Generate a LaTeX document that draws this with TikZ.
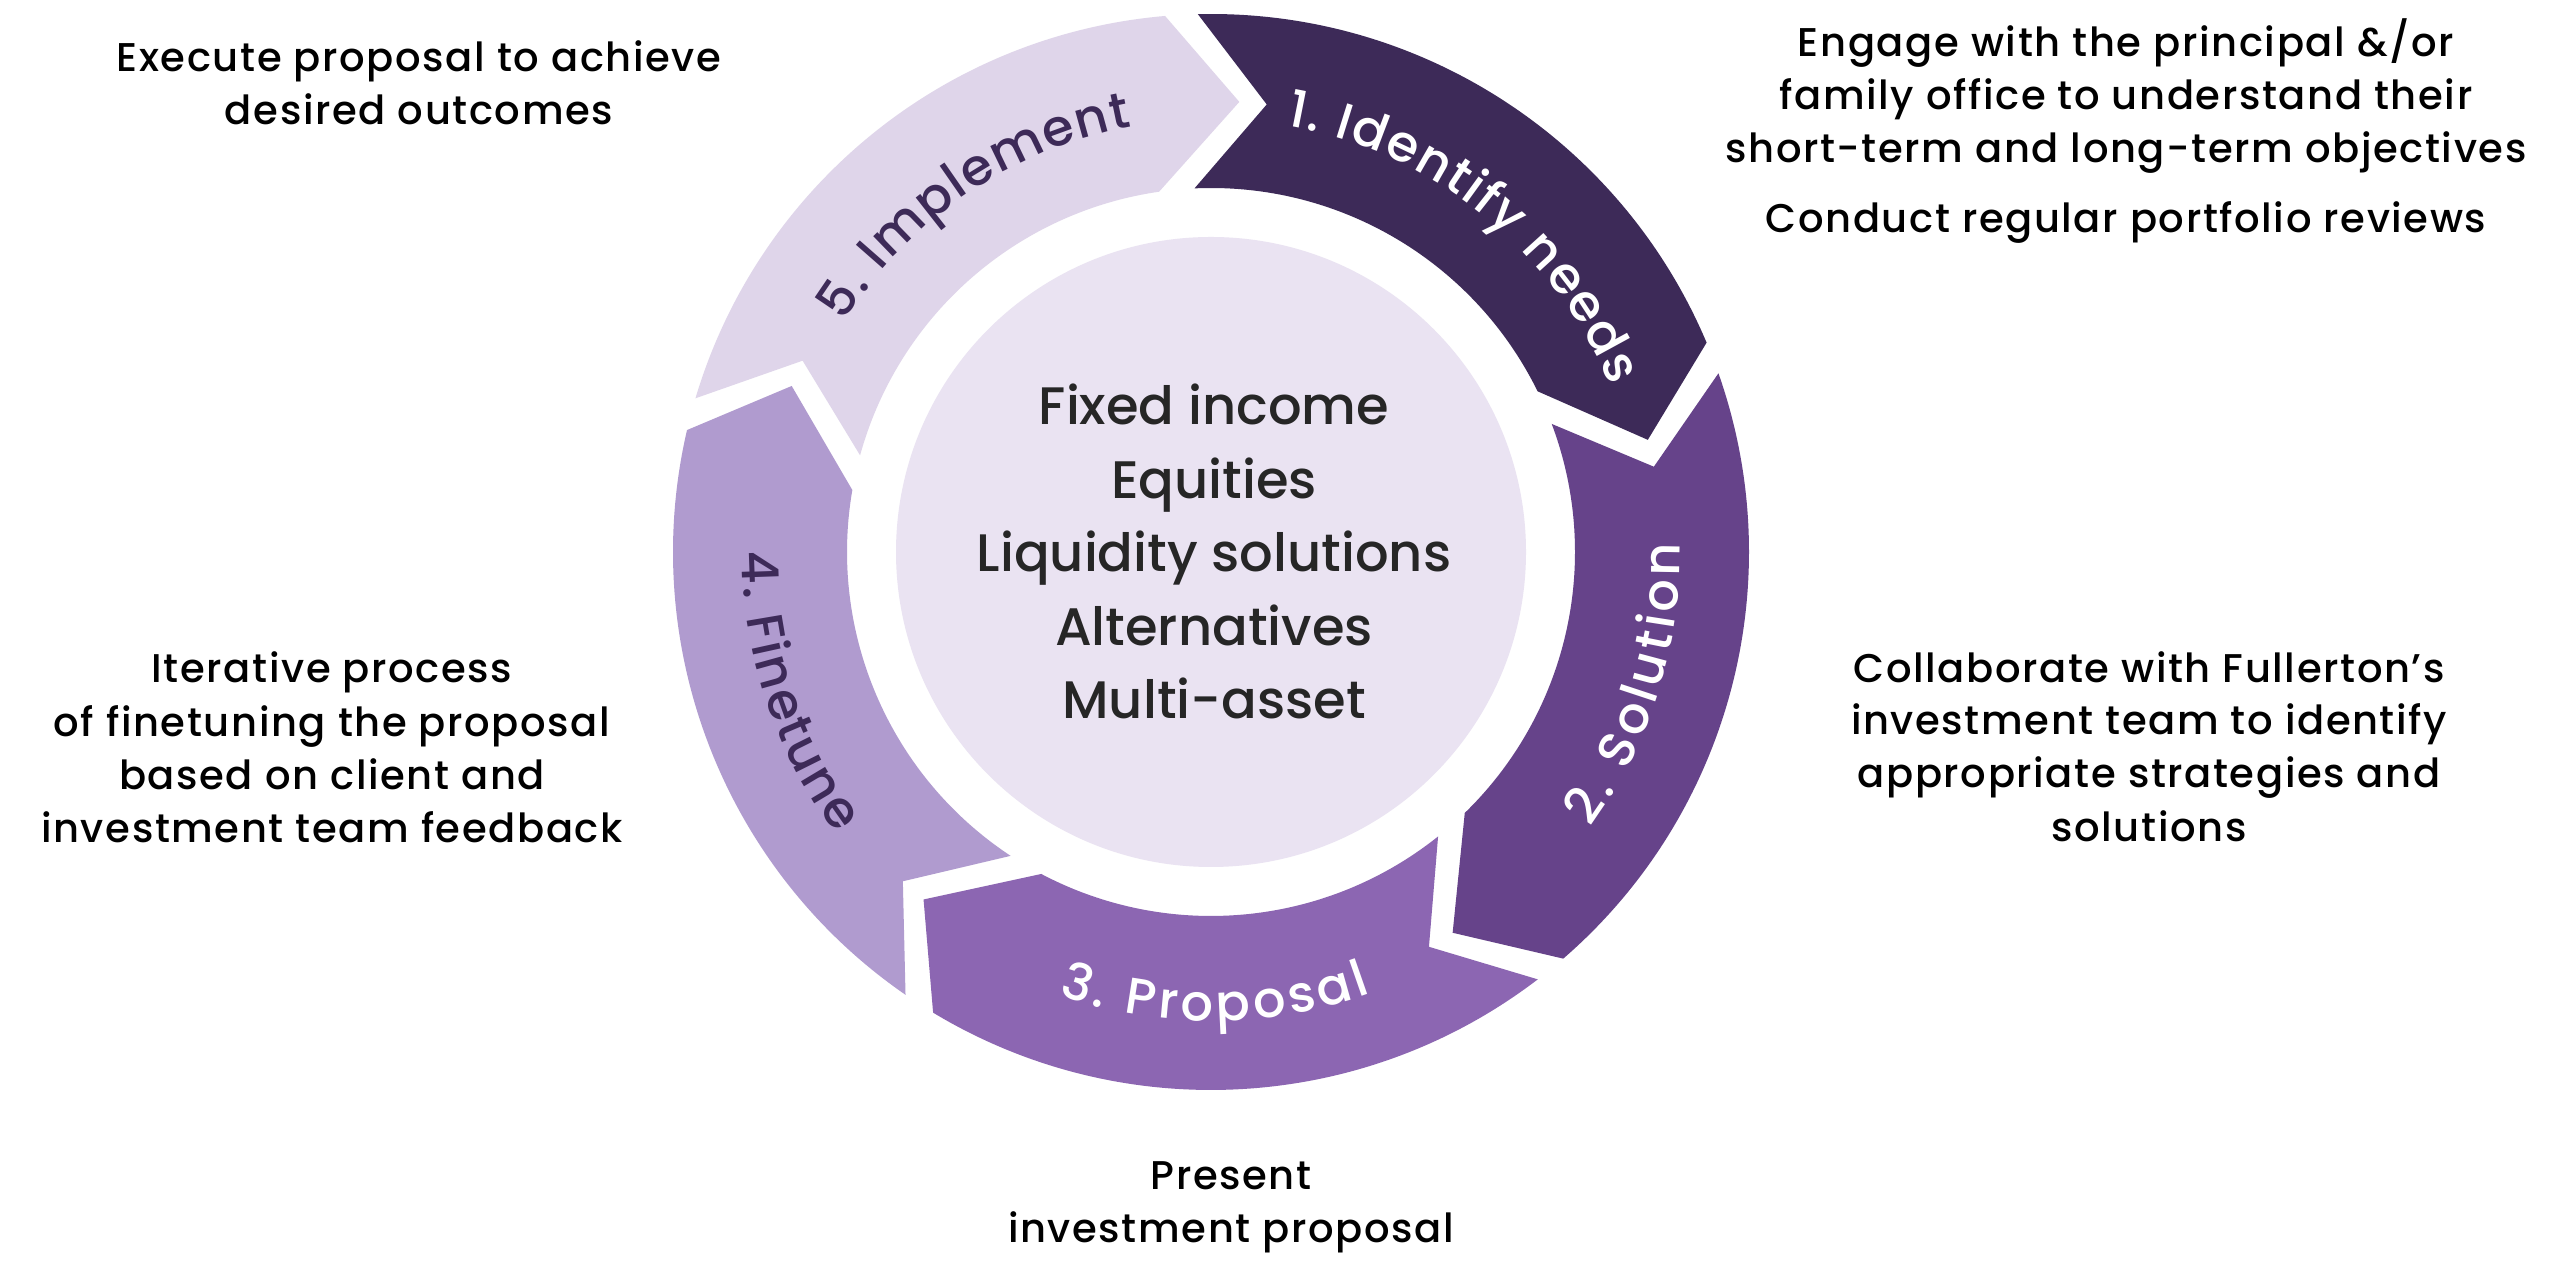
\documentclass[tikz,border=0pt]{standalone}
\usepackage{fontspec}
\setmainfont{Poppins}
\newfontfamily\assetfont{Poppins Medium}
\newfontfamily\sidefont[LetterSpace=4]{Poppins Medium}
\newfontfamily\labelfont{Poppins Medium}
\usetikzlibrary{decorations.text}
\definecolor{identify}{HTML}{3D2A58}
\definecolor{solution}{HTML}{66438A}
\definecolor{proposal}{HTML}{8C66B2}
\definecolor{finetune}{HTML}{B09BCF}
\definecolor{implement}{HTML}{DFD5EA}
\definecolor{core}{HTML}{EAE3F2}
\definecolor{assetgray}{HTML}{262626}
\def\router{538}
\def\rinner{364}
\def\rmiddle{451}
% one arrow piece of the ring, #2 = angle of its tip
\def\ringseg[#1](#2){\fill[#1] ({#2+77}:\router) arc[start angle={#2+77}, end angle={#2+8.5}, radius=\router] -- (#2:\rmiddle) -- ({#2+11.8}:\rinner) arc[start angle={#2+11.8}, end angle={#2+78.2}, radius=\rinner] -- ({#2+68.5}:\rmiddle) -- cycle;}
\tikzset{
  sidetext/.style={font=\sidefont\fontsize{11.4}{15}\selectfont, text=black, inner sep=0pt, anchor=base},
  assettext/.style={font=\assetfont\fontsize{15}{21}\selectfont, text=assetgray, inner sep=0pt, anchor=base}
}

\begin{document}
\begin{tikzpicture}[x=0.01cm, y=0.01cm]
	%%%%% START %%%%%
	\useasboundingbox (0,0) rectangle (2560,1282);
	\fill[white] (0,0) rectangle (2560,1282);
	
	\begin{scope}[shift={(1211,730)}]
		\ringseg[identify](14.4)
		\ringseg[solution](-57.6)
		\ringseg[proposal](-129.6)
		\ringseg[finetune](-201.6)
		\ringseg[implement](86.4)
		
		\fill[core] (0,0) circle[radius=315];
		
		\path[decorate, decoration={text along path, text align=fit to path, text={|\labelfont\fontsize{14.5}{17}\selectfont\color{white}|1. Identify needs}}] (80:433) arc[start angle=80, end angle=22.5, radius=433];
		\path[decorate, decoration={text along path, text align=fit to path, text={|\labelfont\fontsize{14.5}{17}\selectfont\color{white}|2. Solution}}] (-36:469) arc[start angle=-36, end angle=1, radius=469];
		\path[decorate, decoration={text along path, text align=fit to path, text={|\labelfont\fontsize{14.5}{17}\selectfont\color{white}|3. Proposal}}] (-109:469) arc[start angle=-109, end angle=-70, radius=469];
		\path[decorate, decoration={text along path, text align=fit to path, text={|\labelfont\fontsize{14.5}{17}\selectfont\color{identify}|4. Finetune}}] (180:469) arc[start angle=180, end angle=217, radius=469];
		\path[decorate, decoration={text along path, text align=fit to path, text={|\labelfont\fontsize{14.5}{17}\selectfont\color{identify}|5. Implement}}] (148:433) arc[start angle=148, end angle=100.5, radius=433];
	\end{scope}
	
	\node[assettext] (fixed) at (1214,857) {Fixed income};
	\node[assettext] (equities) at (1214,783.5) {Equities};
	\node[assettext] (liquidity) at (1214,710) {Liquidity solutions};
	\node[assettext] (alternatives) at (1214,636.5) {Alternatives};
	\node[assettext] (multi) at (1214,563) {Multi-asset};
	
	\node[sidetext] (execute1) at (419,1210) {Execute proposal to achieve};
	\node[sidetext] (execute2) at (419,1157) {desired outcomes};
	
	\node[sidetext] (engage1) at (2126,1225) {Engage with the principal \&/or};
	\node[sidetext] (engage2) at (2126,1172) {family office to understand their};
	\node[sidetext] (engage3) at (2126,1119) {short-term and long-term objectives};
	\node[sidetext] (review) at (2126,1049) {Conduct regular portfolio reviews};
	
	\node[sidetext] (iterate1) at (332,599) {Iterative process};
	\node[sidetext] (iterate2) at (332,545) {of finetuning the proposal};
	\node[sidetext] (iterate3) at (332,492) {based on client and};
	\node[sidetext] (iterate4) at (332,439) {investment team feedback};
	
	\node[sidetext] (collab1) at (2149,599) {Collaborate with Fullerton’s};
	\node[sidetext] (collab2) at (2149,547) {investment team to identify};
	\node[sidetext] (collab3) at (2149,494) {appropriate strategies and};
	\node[sidetext] (collab4) at (2149,440) {solutions};
	
	\node[sidetext] (present1) at (1231,92) {Present};
	\node[sidetext] (present2) at (1231,39) {investment proposal};
	%%%%% END %%%%%
\end{tikzpicture}
\end{document}
